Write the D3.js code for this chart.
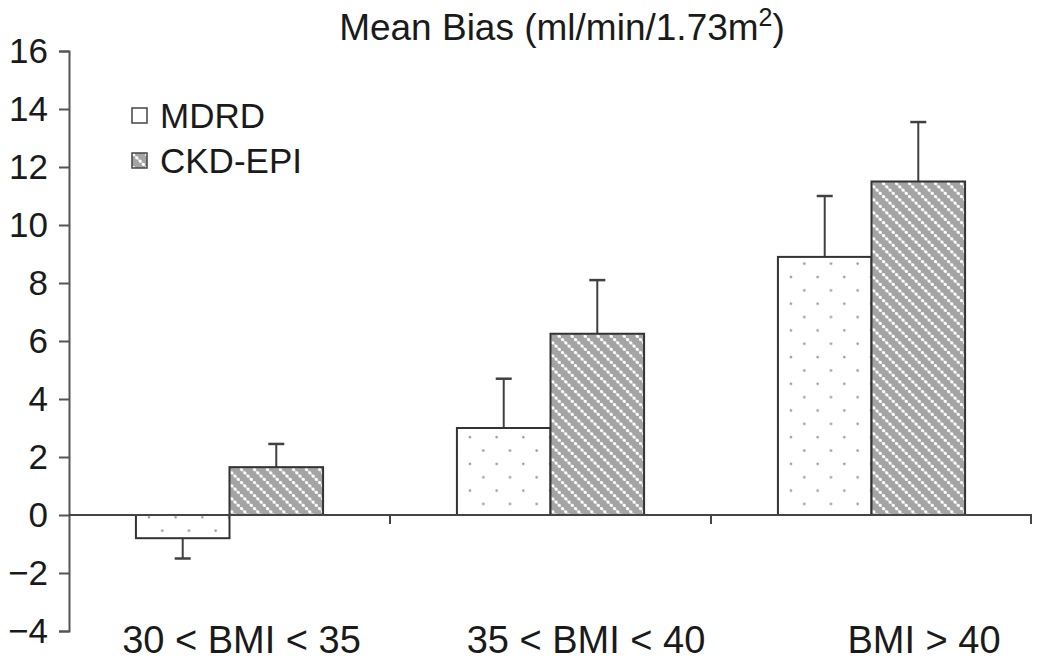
<!DOCTYPE html>
<html><head><meta charset="utf-8">
<script src="https://cdn.jsdelivr.net/npm/d3@7"></script>
<style>
body{margin:0;background:#fff;}
text{font-family:"Liberation Sans",Arial,sans-serif;fill:#1a1a1a;}
</style></head>
<body><svg id="chart" width="1037" height="663"></svg>
<script>
const categories = ["30 < BMI < 35", "35 < BMI < 40", "BMI > 40"];
const seriesNames = ["MDRD", "CKD-EPI"];
const mdrdValues = [-0.8, 3.0, 8.9];
const mdrdErrors = [0.7, 1.7, 2.1];
const ckdValues = [1.65, 6.25, 11.5];
const ckdErrors = [0.8, 1.85, 2.05];
const yTicks = [-4, -2, 0, 2, 4, 6, 8, 10, 12, 14, 16];

(function() {
const svg = d3.select("#chart");
const mLeft = 69, mRight = 1032, mTop = 51, mBottom = 631;

const y = d3.scaleLinear().domain([-4, 16]).range([mBottom, mTop]);
const x0 = d3.scaleBand().domain(categories).range([mLeft, mRight]).paddingInner(0.417).paddingOuter(0.2085);
const x1 = d3.scaleBand().domain(seriesNames).range([0, x0.bandwidth()]).padding(0);

// patterns
const defs = svg.append("defs");
const dots = defs.append("pattern").attr("id", "dots").attr("patternUnits", "userSpaceOnUse")
  .attr("width", 26.7).attr("height", 26.7).attr("x", 7).attr("y", 4);
dots.append("rect").attr("width", 26.7).attr("height", 26.7).attr("fill", "#fff");
dots.append("circle").attr("cx", 6).attr("cy", 6).attr("r", 1.3).attr("fill", "#9a9a9a");
dots.append("circle").attr("cx", 19.35).attr("cy", 19.35).attr("r", 1.3).attr("fill", "#9a9a9a");

const hs = 13;
const hatch = defs.append("pattern").attr("id", "hatch").attr("patternUnits", "userSpaceOnUse")
  .attr("width", hs).attr("height", hs);
hatch.append("rect").attr("width", hs).attr("height", hs).attr("fill", "#a4a4a4");
hatch.append("line").attr("x1", 0).attr("y1", 0).attr("x2", hs).attr("y2", hs)
  .attr("stroke", "#d4d4d4").attr("stroke-width", 1.4);
[1.6, 4.85, 8.1, 11.35].forEach(p => {
  hatch.append("circle").attr("cx", p).attr("cy", p).attr("r", 1.6).attr("fill", "#ffffff");
});

const fills = {"MDRD": "url(#dots)", "CKD-EPI": "url(#hatch)"};

const rows = categories.map((c, i) => ({
  cat: c,
  bars: [
    {s: "MDRD", v: mdrdValues[i], e: mdrdErrors[i]},
    {s: "CKD-EPI", v: ckdValues[i], e: ckdErrors[i]}
  ]
}));

// title
const title = svg.append("text").attr("x", 562).attr("y", 40).attr("text-anchor", "middle")
  .style("font-size", "37px");
title.append("tspan").text("Mean Bias (ml/min/1.73m");
title.append("tspan").attr("dy", -14).style("font-size", "25px").text("2");
title.append("tspan").attr("dy", 14).text(")");

const g = svg.append("g");
const groups = g.selectAll("g.grp").data(rows).join("g").attr("class", "grp")
  .attr("transform", d => `translate(${x0(d.cat)},0)`);

groups.selectAll("g.err").data(d => d.bars).join("g").attr("class", "err").each(function(d) {
  const cx = x1(d.s) + x1.bandwidth() / 2;
  const end = d.v >= 0 ? d.v + d.e : d.v - d.e;
  const sel = d3.select(this);
  sel.append("line").attr("x1", cx).attr("x2", cx).attr("y1", y(d.v)).attr("y2", y(end))
    .attr("stroke", "#404040").attr("stroke-width", 2);
  sel.append("line").attr("x1", cx - 8).attr("x2", cx + 8).attr("y1", y(end)).attr("y2", y(end))
    .attr("stroke", "#404040").attr("stroke-width", 2.5);
});

groups.selectAll("rect").data(d => d.bars).join("rect")
  .attr("x", d => x1(d.s))
  .attr("width", x1.bandwidth())
  .attr("y", d => y(Math.max(0, d.v)))
  .attr("height", d => Math.abs(y(d.v) - y(0)))
  .attr("fill", d => fills[d.s])
  .attr("stroke", "#333")
  .attr("stroke-width", 2);

// y axis
const yAxis = svg.append("g").attr("transform", `translate(${mLeft},0)`)
  .call(d3.axisLeft(y).tickValues(yTicks).tickSize(10).tickSizeOuter(10).tickPadding(11));
yAxis.selectAll("path,line").attr("stroke", "#555").attr("stroke-width", 2);
yAxis.selectAll("text").style("font-size", "35px").attr("fill", "#1a1a1a")
  .style("font-family", "'Liberation Sans', Arial, sans-serif");

// x axis at zero
const xAxis = svg.append("g");
xAxis.append("line").attr("x1", mLeft).attr("x2", mRight).attr("y1", y(0)).attr("y2", y(0))
  .attr("stroke", "#444").attr("stroke-width", 2);
const bx = d => x0(d) + x0.bandwidth() + x0.step() * x0.paddingInner() / 2;
xAxis.selectAll("line.tk").data(categories).join("line").attr("class", "tk")
  .attr("x1", d => Math.min(bx(d), mRight - 1))
  .attr("x2", d => Math.min(bx(d), mRight - 1))
  .attr("y1", y(0)).attr("y2", y(0) + 9)
  .attr("stroke", "#444").attr("stroke-width", 2);

const labelDx = [12, 35.5, 52.5];
xAxis.selectAll("text.cat").data(categories).join("text").attr("class", "cat")
  .attr("x", (d, i) => x0(d) + x0.bandwidth() / 2 + labelDx[i])
  .attr("y", 653)
  .attr("text-anchor", "middle")
  .style("font-size", "38px")
  .text(d => d);

// legend
const legend = svg.append("g");
const lg = legend.selectAll("g").data(seriesNames).join("g")
  .attr("transform", (d, i) => `translate(132,${108 + i * 45})`);
lg.append("rect").attr("width", 15).attr("height", 15)
  .attr("fill", d => d === "MDRD" ? "#fff" : "url(#hatch)")
  .attr("stroke", "#444").attr("stroke-width", 1.5);
lg.append("text").attr("x", 28).attr("y", 20).style("font-size", "35px").text(d => d);
})();
</script></body></html>
